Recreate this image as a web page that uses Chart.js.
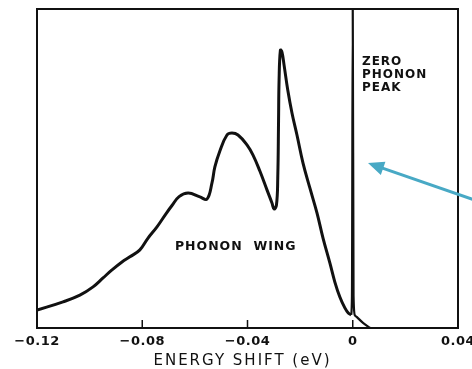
<!DOCTYPE html>
<html>
<head>
<meta charset="utf-8">
<script src="https://cdn.jsdelivr.net/npm/chart.js@4"></script>
<style>
  html, body { margin: 0; padding: 0; background: #fff; overflow: hidden; }
  #wrap { width: 472px; height: 369px; }
</style>
</head>
<body>
<div id="wrap"><canvas id="spectrum"></canvas></div>
<script>
// phonon wing: energy shift (eV) and intensity (0-100 = box height)
const wingEnergy = [
  -0.1200, -0.1101, -0.1037, -0.0987, -0.0949, -0.0915, -0.0877, -0.0847, -0.0809, -0.0778,
  -0.0744, -0.0710, -0.0687, -0.0660, -0.0625, -0.0581, -0.0554, -0.0535, -0.0524, -0.0505,
  -0.0478, -0.0459, -0.0436, -0.0402, -0.0379, -0.0353, -0.0326, -0.0307, -0.0299, -0.0290,
  -0.0285, -0.0282, -0.0280, -0.0275, -0.0269, -0.0261, -0.0247, -0.0231, -0.0212, -0.0189,
  -0.0163, -0.0136, -0.0113, -0.0087, -0.0068, -0.0049, -0.0030, -0.0017, -0.0006
];
const wingIntensity = [
  5.6, 8.2, 10.3, 12.9, 15.7, 18.2, 20.7, 22.3, 24.5, 28.2,
  31.7, 35.8, 38.4, 41.2, 42.3, 41.1, 40.4, 45.5, 50.5, 55.5,
  60.5, 61.1, 60.5, 57.4, 54.2, 49.2, 43.3, 39.2, 37.3, 38.5,
  47.0, 65.0, 77.7, 87.1, 86.5, 82.4, 74.6, 67.4, 60.5, 51.7,
  43.9, 36.1, 28.2, 20.4, 14.4, 9.7, 6.3, 4.7, 4.1
];
// zero phonon line and its tail
const zplEnergy = [-0.0006, -0.0003, 0.0000, 0.0003, 0.0008, 0.0016, 0.0039, 0.0066];
const zplIntensity = [4.1, 10, 100, 10, 4.0, 3.4, 1.6, 0];

const tickValues = [-0.12, -0.08, -0.04, 0, 0.04];
const tickLabels = ['\u22120.12', '\u22120.08', '\u22120.04', '0', '0.04'];

const toPoints = (xs, ys) => xs.map((e, i) => ({ x: e, y: ys[i] }));

// box frame, inward ticks, labels, annotations and arrow
const framePlugin = {
  id: 'frame',
  afterDraw(chart) {
    const { ctx, chartArea: a, scales: { x, y } } = chart;
    ctx.save();
    ctx.strokeStyle = '#111';
    ctx.lineWidth = 2;
    ctx.strokeRect(a.left, a.top, a.right - a.left, a.bottom - a.top);

    ctx.fillStyle = '#111';
    ctx.textBaseline = 'middle';
    ctx.textAlign = 'center';
    ctx.font = 'bold 13px "DejaVu Sans"';
    ctx.letterSpacing = '0.5px';
    ctx.lineWidth = 1.5;
    tickValues.forEach((v, i) => {
      const px = x.getPixelForValue(v);
      ctx.beginPath();
      ctx.moveTo(px, a.bottom);
      ctx.lineTo(px, a.bottom - 8);
      ctx.stroke();
      ctx.fillText(tickLabels[i], px, a.bottom + 14);
    });

    ctx.font = '15px "DejaVu Sans"';
    ctx.letterSpacing = '2px';
    ctx.fillText('ENERGY SHIFT (eV)', (a.left + a.right) / 2 - 5, a.bottom + 33);

    ctx.textAlign = 'left';
    ctx.font = 'bold 12px "DejaVu Sans"';
    ctx.letterSpacing = '1px';
    ['ZERO', 'PHONON', 'PEAK'].forEach((t, i) => {
      ctx.fillText(t, x.getPixelForValue(0.0035), y.getPixelForValue(83.4) + i * 13);
    });
    ctx.font = 'bold 12.5px "DejaVu Sans"';
    ctx.fillText('PHONON  WING', x.getPixelForValue(-0.0676), y.getPixelForValue(25.4));

    // blue arrow pointing at the zero phonon line
    const tx = x.getPixelForValue(0.0058), ty = y.getPixelForValue(51.7);
    const sx = x.getPixelForValue(0.0484), sy = y.getPixelForValue(39.5);
    const ang = Math.atan2(ty - sy, tx - sx);
    ctx.strokeStyle = '#48a9c5';
    ctx.fillStyle = '#48a9c5';
    ctx.lineWidth = 3;
    ctx.beginPath();
    ctx.moveTo(sx, sy);
    ctx.lineTo(tx - 10 * Math.cos(ang), ty - 10 * Math.sin(ang));
    ctx.stroke();
    ctx.beginPath();
    ctx.moveTo(tx, ty);
    ctx.lineTo(tx - 16 * Math.cos(ang) + 7 * Math.sin(ang), ty - 16 * Math.sin(ang) - 7 * Math.cos(ang));
    ctx.lineTo(tx - 16 * Math.cos(ang) - 7 * Math.sin(ang), ty - 16 * Math.sin(ang) + 7 * Math.cos(ang));
    ctx.closePath();
    ctx.fill();
    ctx.restore();
  }
};

new Chart(document.getElementById('spectrum'), {
  type: 'line',
  data: {
    datasets: [{
      data: toPoints(wingEnergy, wingIntensity),
      borderColor: '#111',
      borderWidth: 3,
      pointRadius: 0,
      fill: false,
      tension: 0.4
    }, {
      data: toPoints(zplEnergy, zplIntensity),
      borderColor: '#111',
      borderWidth: 2.2,
      pointRadius: 0,
      fill: false,
      cubicInterpolationMode: 'monotone'
    }]
  },
  options: {
    responsive: true,
    maintainAspectRatio: false,
    animation: false,
    layout: { padding: { left: 37, top: 9, right: 14, bottom: 41 } },
    plugins: { legend: { display: false }, tooltip: { enabled: false } },
    scales: {
      x: { type: 'linear', display: false, min: -0.12, max: 0.04 },
      y: { display: false, min: 0, max: 100 }
    }
  },
  plugins: [framePlugin]
});
</script>
</body>
</html>
